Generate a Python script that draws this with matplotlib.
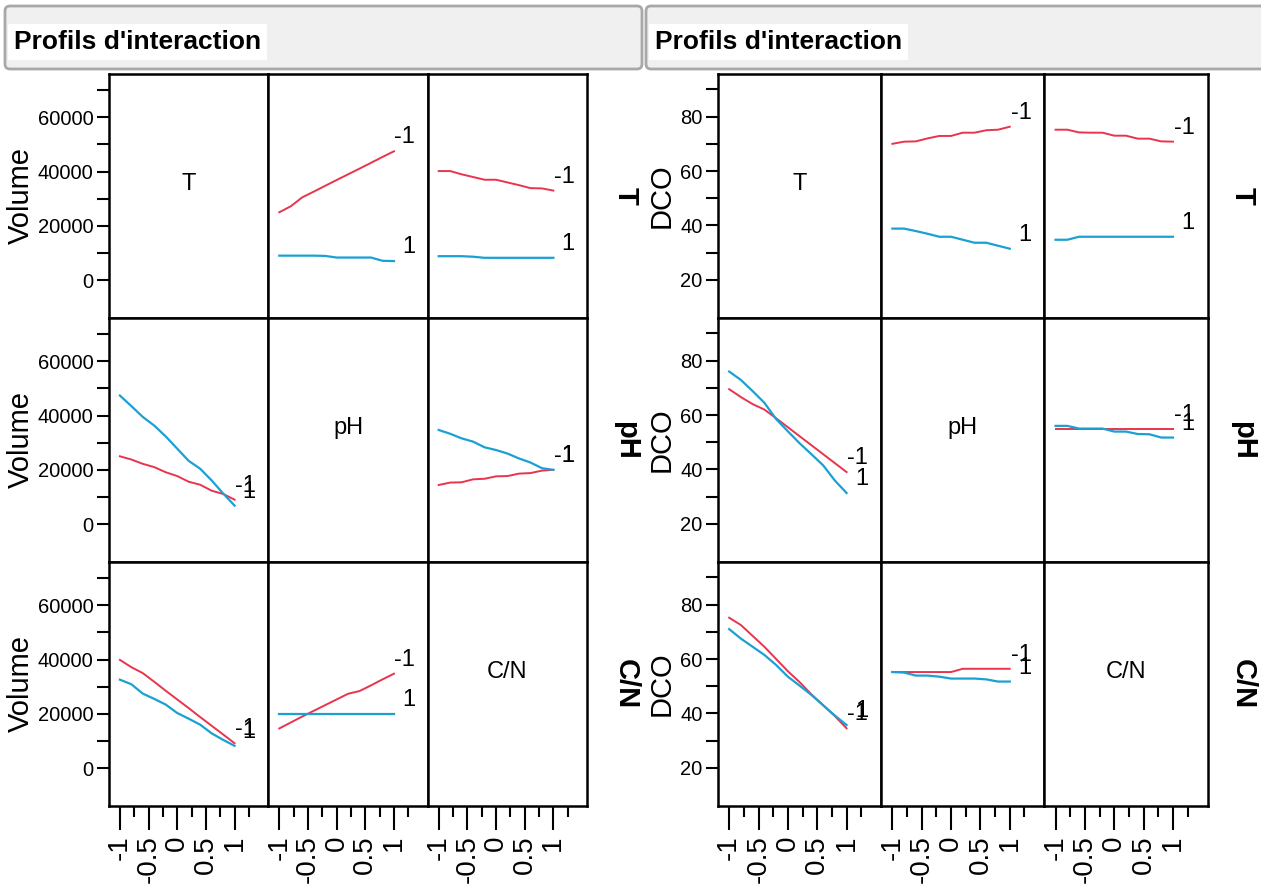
import matplotlib.pyplot as plt
from matplotlib.patches import FancyBboxPatch

W, H = 1261, 891
FONT = ['Liberation Sans', 'DejaVu Sans']
RED = '#e8344c'
BLUE = '#1ba0d4'

levels = [-1, -0.8, -0.6, -0.4, -0.2, 0, 0.2, 0.4, 0.6, 0.8, 1]
factors = ['T', 'pH', 'C/N']

# Volume: lines for the row factor at -1 (red) and +1 (blue) against the column factor
vol_T_pH_lo = [25000, 27200, 30500, 32600, 34750, 36900, 39000, 41100, 43250, 45400, 47500]
vol_T_pH_hi = [9000, 9000, 9000, 9000, 8900, 8300, 8300, 8300, 8300, 7100, 7000]
vol_T_CN_lo = [40200, 40200, 39000, 38000, 37000, 37000, 36000, 35000, 33900, 33800, 33000]
vol_T_CN_hi = [8800, 8800, 8800, 8600, 8200, 8200, 8200, 8200, 8200, 8200, 8200]
vol_pH_T_lo = [25000, 23800, 22200, 21000, 19100, 17700, 15600, 14500, 12300, 11100, 9000]
vol_pH_T_hi = [47400, 43500, 39500, 36300, 32300, 27800, 23300, 20400, 16100, 11300, 6800]
vol_pH_CN_lo = [14400, 15300, 15400, 16500, 16700, 17600, 17700, 18600, 18800, 19700, 20000]
vol_pH_CN_hi = [34700, 33300, 31600, 30400, 28300, 27300, 26000, 24200, 22700, 20600, 20000]
vol_CN_T_lo = [39900, 37200, 35000, 31800, 28500, 25300, 22100, 18800, 15600, 12400, 9150]
vol_CN_T_hi = [32600, 30900, 27450, 25500, 23400, 20300, 18200, 16000, 12800, 10400, 8200]
vol_CN_pH_lo = [14600, 16800, 19000, 21100, 23200, 25300, 27400, 28400, 30500, 32700, 34800]
vol_CN_pH_hi = [19900, 19900, 19900, 19900, 19900, 19900, 19900, 19900, 19900, 19900, 19900]

# DCO, same layout
dco_T_pH_lo = [70.0, 70.8, 70.9, 72.0, 72.9, 72.9, 74.1, 74.1, 75.0, 75.2, 76.3]
dco_T_pH_hi = [38.8, 38.8, 37.9, 36.9, 35.8, 35.8, 34.7, 33.6, 33.6, 32.5, 31.4]
dco_T_CN_lo = [75.2, 75.2, 74.2, 74.1, 74.1, 73.0, 73.0, 71.9, 71.9, 70.9, 70.8]
dco_T_CN_hi = [34.7, 34.7, 35.8, 35.8, 35.8, 35.8, 35.8, 35.8, 35.8, 35.8, 35.8]
dco_pH_T_lo = [69.5, 66.6, 64.0, 62.0, 58.8, 55.5, 52.2, 48.9, 45.6, 42.3, 39.0]
dco_pH_T_hi = [76.0, 72.9, 68.8, 64.5, 58.5, 54.0, 49.6, 45.6, 41.5, 35.9, 31.3]
dco_pH_CN_lo = [55.0, 55.0, 55.0, 55.0, 55.0, 55.0, 55.0, 55.0, 55.0, 55.0, 55.0]
dco_pH_CN_hi = [56.0, 56.0, 55.0, 55.0, 55.0, 53.9, 53.9, 53.0, 52.9, 51.7, 51.7]
dco_CN_T_lo = [75.2, 72.5, 68.5, 64.5, 60.0, 55.5, 51.5, 47.0, 43.0, 39.0, 34.5]
dco_CN_T_hi = [71.0, 67.5, 64.5, 61.5, 57.8, 53.5, 50.2, 46.8, 43.0, 39.2, 35.7]
dco_CN_pH_lo = [55.2, 55.2, 55.2, 55.2, 55.2, 55.2, 56.4, 56.4, 56.4, 56.4, 56.4]
dco_CN_pH_hi = [55.2, 55.0, 53.9, 53.9, 53.5, 52.8, 52.8, 52.8, 52.5, 51.7, 51.7]

vol_yticks = [0, 20000, 40000, 60000]
vol_yminor = [10000, 30000, 50000, 70000]
dco_yticks = [20, 40, 60, 80]
dco_yminor = [30, 50, 70, 90]
xticks = [-1, -0.5, 0, 0.5, 1]
xtick_labels = ['-1', '-0.5', '0', '0.5', '1']
xminor = [-0.75, -0.25, 0.25, 0.75, 1.25]

vol_cells = {
    (0, 1): (vol_T_pH_lo, vol_T_pH_hi), (0, 2): (vol_T_CN_lo, vol_T_CN_hi),
    (1, 0): (vol_pH_T_lo, vol_pH_T_hi), (1, 2): (vol_pH_CN_lo, vol_pH_CN_hi),
    (2, 0): (vol_CN_T_lo, vol_CN_T_hi), (2, 1): (vol_CN_pH_lo, vol_CN_pH_hi),
}
dco_cells = {
    (0, 1): (dco_T_pH_lo, dco_T_pH_hi), (0, 2): (dco_T_CN_lo, dco_T_CN_hi),
    (1, 0): (dco_pH_T_lo, dco_pH_T_hi), (1, 2): (dco_pH_CN_lo, dco_pH_CN_hi),
    (2, 0): (dco_CN_T_lo, dco_CN_T_hi), (2, 1): (dco_CN_pH_lo, dco_CN_pH_hi),
}

plt.rcParams['font.family'] = FONT

fig = plt.figure(figsize=(W / 100, H / 100), dpi=100)
fig.patch.set_facecolor('white')

# pixel canvas for the header bars and the y titles
bg = fig.add_axes([0, 0, 1, 1])
bg.set_xlim(0, W)
bg.set_ylim(H, 0)
bg.axis('off')


def header(x0, x1):
    box = FancyBboxPatch((x0, 6), x1 - x0, 63, boxstyle='round,pad=0,rounding_size=5',
                         facecolor='#f0f0f0', edgecolor='#a8a8a8', linewidth=2)
    bg.add_patch(box)
    bg.text(x0 + 9, 42, "Profils d'interaction", fontsize=19, fontweight='bold',
            va='center', ha='left',
            bbox=dict(facecolor='white', edgecolor='none', pad=4))


def panel(left, colw, ylabel_x, side_x, ylabel, cells, ylim, yticks, yminor):
    top, rowh = 74, 244
    for r in range(3):
        bg.text(ylabel_x, top + rowh * (r + 0.5), ylabel, rotation=90, fontsize=21,
                ha='center', va='center')
        bg.text(side_x, top + rowh * (r + 0.5), factors[r], rotation=-90, fontsize=21,
                fontweight='bold', ha='center', va='center')
        for c in range(3):
            x0 = left + c * colw
            y1 = top + (r + 1) * rowh
            ax = fig.add_axes([x0 / W, 1 - y1 / H, colw / W, rowh / H])
            ax.set_xlim(-1.19, 1.59)
            ax.set_ylim(*ylim)
            for s in ax.spines.values():
                s.set_linewidth(1.8)
            if c == 0:
                ax.set_yticks(yticks)
                ax.set_yticklabels([str(v) for v in yticks])
                ax.set_yticks(yminor, minor=True)
                ax.tick_params(axis='y', which='both', length=9, width=1.5, pad=2,
                               labelsize=14.5)
            else:
                ax.set_yticks([])
            if r == 2:
                ax.set_xticks(xticks)
                ax.set_xticklabels(xtick_labels, rotation=90)
                ax.set_xticks(xminor, minor=True)
                ax.tick_params(axis='x', which='major', length=17, width=1.5, pad=4,
                               labelsize=20)
                ax.tick_params(axis='x', which='minor', length=8, width=1.5)
            else:
                ax.set_xticks([])
            if r == c:
                ax.text(0.5, 0.55, factors[r], transform=ax.transAxes, ha='center',
                        va='center', fontsize=17)
                continue
            lo, hi = cells[(r, c)]
            ax.plot(levels, lo, color=RED, linewidth=1.4)
            ax.plot(levels, hi, color=BLUE, linewidth=1.6)
            for vals, txt in ((lo, '-1'), (hi, '1')):
                ax.annotate(txt, (1.37, vals[-1]), xytext=(0, 10), textcoords='offset points',
                            ha='right', va='center', fontsize=17)


header(5, 642)
header(646, 1275)
panel(109, 159.4, 21, 626, 'Volume', vol_cells, (-14000, 76000), vol_yticks, vol_yminor)
panel(718, 163.2, 662, 1243, 'DCO', dco_cells, (5.9, 95.7), dco_yticks, dco_yminor)

fig.savefig('out.png', dpi=100)
